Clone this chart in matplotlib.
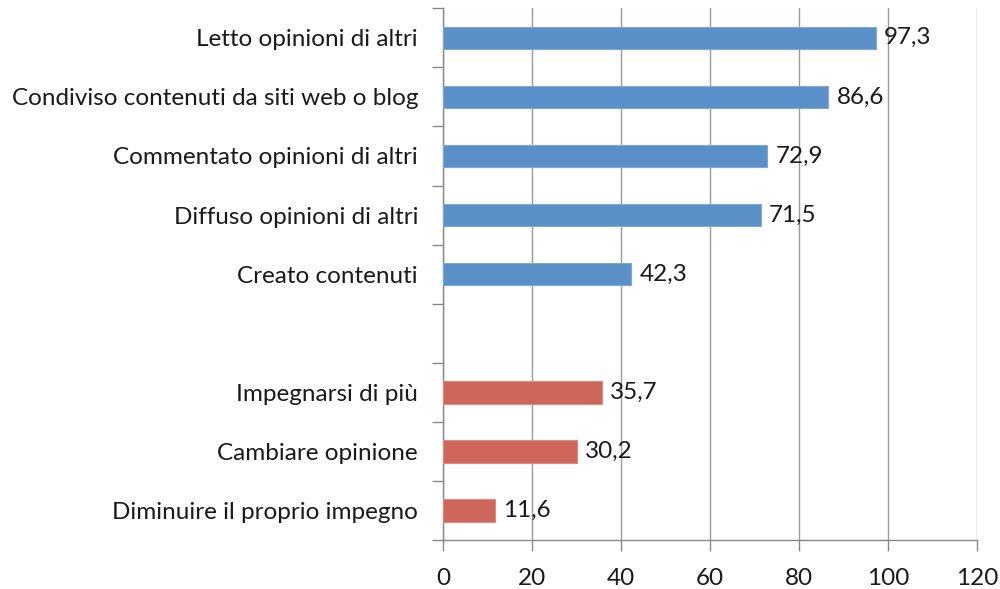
import matplotlib
matplotlib.use("Agg")
import matplotlib.pyplot as plt

categories = [
    "Letto opinioni di altri",
    "Condiviso contenuti da siti web o blog",
    "Commentato opinioni di altri",
    "Diffuso opinioni di altri",
    "Creato contenuti",
    "",
    "Impegnarsi di più",
    "Cambiare opinione",
    "Diminuire il proprio impegno",
]
values = [97.3, 86.6, 72.9, 71.5, 42.3, None, 35.7, 30.2, 11.6]
groups = ["blue", "blue", "blue", "blue", "blue", None, "red", "red", "red"]
xticks = [0, 20, 40, 60, 80, 100, 120]

colors = {"blue": "#5B8FC7", "red": "#CD655B"}
edges = {"blue": "#7FA8D6", "red": "#DC8B83"}

plt.rcParams["font.family"] = ["Lato", "DejaVu Sans"]
FS = 17.5

fig = plt.figure(figsize=(10, 5.89), dpi=100)
ax = fig.add_axes([0.443, 0.083, 0.534, 0.903])

n = len(categories)
for i, (c, v, g) in enumerate(zip(categories, values, groups)):
    if v is None:
        continue
    y = n - 1 - i
    ax.barh(y, v, height=0.38, color=colors[g], edgecolor=edges[g], linewidth=0.8, zorder=3)
    ax.text(v + 1.8, y, f"{v:.1f}".replace(".", ","), va="center", ha="left",
            fontsize=FS, color="#1a1a1a", zorder=4)

ax.set_xlim(0, 120)
ax.set_ylim(-0.5, n - 0.5)
ax.set_xticks(xticks)
ax.set_xticklabels([str(t) for t in xticks], fontsize=FS, color="#1a1a1a")
ax.set_yticks(range(n))
ax.set_yticklabels(categories[::-1], fontsize=FS, color="#1a1a1a")
ax.tick_params(axis="y", length=0, pad=18)
# boundary ticks
ax.set_yticks([k - 0.5 for k in range(n + 1)], minor=True)
ax.tick_params(axis="y", which="minor", length=8, width=1, color="#888888", direction="out")
ax.tick_params(axis="x", length=8, width=1, color="#888888", direction="out", pad=12)

ax.grid(axis="x", color="#9a9a9a", linewidth=1, zorder=0)
for s in ["top", "right"]:
    ax.spines[s].set_visible(False)
for s in ["left", "bottom"]:
    ax.spines[s].set_color("#888888")
    ax.spines[s].set_linewidth(1)

fig.savefig("out.png", dpi=100, facecolor="white")
